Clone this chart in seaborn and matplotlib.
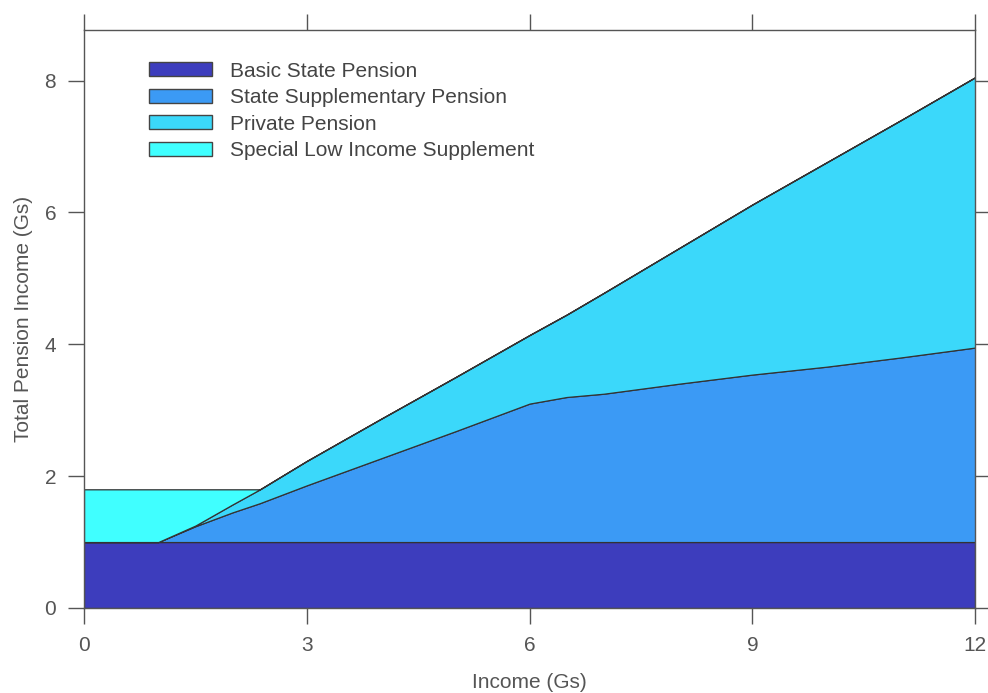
import seaborn as sns
import pandas as pd
import matplotlib.pyplot as plt
from matplotlib.patches import Patch

income = [0, 0.5, 1, 1.5, 2, 2.37, 3, 4, 5, 6, 6.5, 7, 8, 9, 10, 11, 12]
basic = [1, 1, 1, 1, 1, 1, 1, 1, 1, 1, 1, 1, 1, 1, 1, 1, 1]
supplementary = [0, 0, 0, 0.24, 0.45, 0.59, 0.86, 1.27, 1.68, 2.1, 2.2, 2.25, 2.4, 2.54, 2.66, 2.8, 2.95]
private = [0, 0, 0, 0.01, 0.12, 0.21, 0.37, 0.6, 0.82, 1.04, 1.25, 1.53, 2.05, 2.58, 3.1, 3.6, 4.1]
special = [0.8, 0.8, 0.8, 0.55, 0.23, 0, 0, 0, 0, 0, 0, 0, 0, 0, 0, 0, 0]

names = ["Basic State Pension", "State Supplementary Pension",
         "Private Pension", "Special Low Income Supplement"]
colors = ["#3d3dbd", "#3b9af5", "#3bd8fa", "#40ffff"]

df = pd.DataFrame({"income": income, names[0]: basic, names[1]: supplementary,
                   names[2]: private, names[3]: special})

sns.set_style("ticks")
plt.rcParams['font.family'] = ['Liberation Sans', 'DejaVu Sans']

fig, ax = plt.subplots(figsize=(9.88, 6.93), dpi=100)
fig.subplots_adjust(left=0.085, right=0.987, top=0.957, bottom=0.1227)

ax.stackplot(df["income"], [df[n] for n in names], colors=colors,
             edgecolor="#333333", linewidth=0.9)

ax.set_xlim(0, 12)
ax.set_ylim(0, 8.77)
ax.set_xticks([0, 3, 6, 9, 12])
ax.set_yticks([0, 2, 4, 6, 8])
ax.tick_params(direction="out", length=11.5, width=1, colors="#555555",
               labelsize=15, top=True, right=True, pad=8.5)
for s in ax.spines.values():
    s.set_color("#555555")
    s.set_linewidth(1)
ax.set_xlabel("Income (Gs)", fontsize=15, color="#555555", labelpad=13)
ax.set_ylabel("Total Pension Income (Gs)", fontsize=15, color="#555555", labelpad=8)

handles = [Patch(facecolor=c, edgecolor="#444444", linewidth=1) for c in colors]
leg = ax.legend(handles, names, loc="upper left", bbox_to_anchor=(0.073, 0.945),
                frameon=False, fontsize=15, handlelength=3.0, handleheight=0.65,
                labelspacing=0.36, handletextpad=0.9, borderpad=0, borderaxespad=0)
for t in leg.get_texts():
    t.set_color("#444444")

plt.savefig("out.png", dpi=100)
